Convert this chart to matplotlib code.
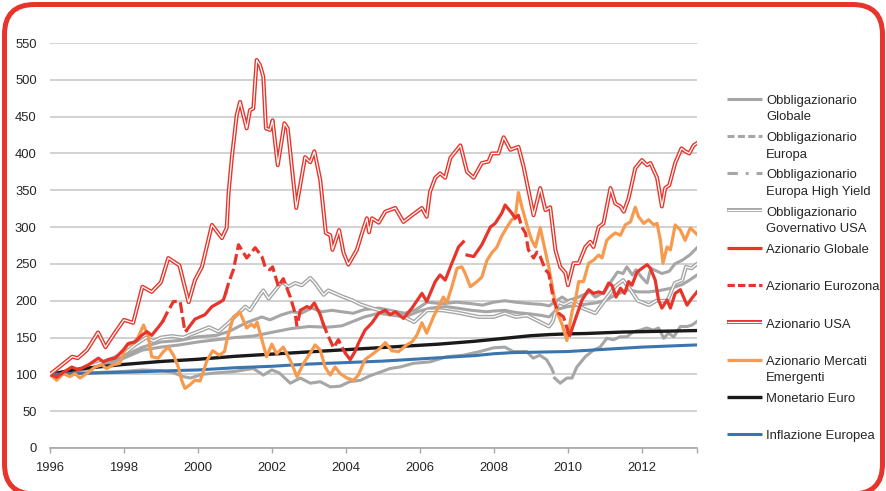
import numpy as np
import matplotlib
matplotlib.use("Agg")
import matplotlib.pyplot as plt
from matplotlib.patches import FancyBboxPatch
from matplotlib.lines import Line2D

plt.rcParams['font.family'] = ['Liberation Sans', 'DejaVu Sans']

nan = np.nan

# ---------------- data (index, 1996 = 100) ----------------
obg_x = [1996.0, 1996.5, 1997.0, 1997.5, 1998.0, 1998.5, 1999.0, 1999.5, 2000.0, 2000.5, 2000.83, 2001.3,
         2001.73, 2001.95, 2002.27, 2002.54, 2002.8, 2003.08, 2003.35, 2003.62, 2003.9, 2004.2, 2004.5,
         2004.9, 2005.3, 2005.6, 2005.9, 2006.2, 2006.6, 2007.0, 2007.4, 2007.7, 2008.0, 2008.3, 2008.6,
         2009.0, 2009.3, 2009.5, 2009.7, 2009.85, 2010.0, 2010.3, 2010.6, 2010.75, 2011.0, 2011.2, 2011.35,
         2011.5, 2011.6, 2011.75, 2011.85, 2012.0, 2012.15, 2012.25, 2012.55, 2012.75, 2012.9, 2013.1,
         2013.3, 2013.5]
obg_y = [100, 104, 108, 115, 125, 137, 144, 146, 151, 153, 158, 170,
         178, 174, 181, 185, 183, 190, 185, 187, 185, 183, 188,
         190, 186, 183, 188, 198, 196, 198, 196, 194, 198, 200, 198,
         196, 195, 193, 200, 205, 200, 205, 212, 205, 212, 228, 239,
         237, 246, 235, 242, 232, 224, 244, 237, 240, 250, 255,
         262, 272]

obe_x = [1996.0, 1996.5, 1997.0, 1997.5, 1998.0, 1998.5, 1999.0, 1999.5, 2000.0, 2000.5, 2001.0, 2001.5,
         2002.0, 2002.5, 2003.0, 2003.5, 2003.9, 2004.2, 2004.5, 2004.9, 2005.3, 2005.6, 2006.0, 2006.3,
         2006.7, 2007.0, 2007.4, 2007.8, 2008.0, 2008.3, 2008.6, 2009.0, 2009.3, 2009.5, 2009.7, 2010.0,
         2010.3, 2010.75, 2011.0, 2011.3, 2011.65, 2011.9, 2012.2, 2012.5, 2012.8, 2013.1, 2013.3, 2013.5]
obe_y = [100, 103, 107, 113, 122, 133, 137, 140, 144, 147, 150, 152,
         157, 162, 165, 164, 166, 172, 178, 183, 180, 178, 186, 190,
         192, 190, 187, 185, 186, 187, 184, 182, 180, 178, 188, 192,
         194, 197, 200, 208, 215, 212, 212, 214, 217, 222, 228, 235]

ohy_x = [1996.0, 1996.5, 1997.0, 1997.5, 1998.0, 1998.5, 1999.0, 1999.3, 1999.6, 1999.8, 2000.1, 2000.5,
         2001.0, 2001.5, 2001.77, 2002.0, 2002.2, 2002.5, 2002.77, 2003.04, 2003.31, 2003.58, 2003.85,
         2004.1, 2004.4, 2004.65, 2004.93, 2005.2, 2005.47, 2005.83, 2006.28, 2006.73, 2007.18, 2007.63,
         2007.99, 2008.3, 2008.53, 2008.89, 2009.07, 2009.25, 2009.43, 2009.56, 2009.61, 2009.63,
         2009.65, 2009.8, 2009.98, 2010.12, 2010.25, 2010.48, 2010.7, 2010.88, 2011.06, 2011.24, 2011.42,
         2011.6, 2011.78, 2011.96, 2012.14, 2012.32, 2012.46, 2012.6, 2012.73, 2012.87, 2013.05, 2013.23,
         2013.37, 2013.5]
ohy_y = [100, 101, 102, 103, 104, 106, 105, 103, 97, 95, 100, 102,
         104, 108, 99, 106, 102, 88, 95, 88, 90, 83, 84,
         90, 92, 98, 103, 108, 110, 115, 117, 124, 126, 131,
         136, 137, 131, 131, 122, 126, 120, 109, 103, nan,
         95, 88, 95, 95, 110, 124, 133, 137, 149, 147, 151,
         151, 158, 160, 163, 160, 163, 149, 156, 151, 165, 165,
         167, 172]

ogu_x = [1996.0, 1996.5, 1997.0, 1997.5, 1998.0, 1998.3, 1998.6, 1998.8, 1999.0, 1999.3, 1999.6, 1999.9,
         2000.3, 2000.56, 2000.83, 2001.1, 2001.28, 2001.41, 2001.64, 2001.77, 2001.91, 2002.09, 2002.27,
         2002.45, 2002.63, 2002.81, 2003.04, 2003.17, 2003.4, 2003.53, 2003.71, 2003.94, 2004.16, 2004.4,
         2004.7, 2004.9, 2005.2, 2005.5, 2005.85, 2006.0, 2006.2, 2006.6, 2007.0, 2007.3, 2007.6, 2008.0,
         2008.3, 2008.6, 2008.9, 2009.1, 2009.3, 2009.5, 2009.6, 2009.75, 2009.9, 2010.1, 2010.4, 2010.75,
         2011.0, 2011.3, 2011.5, 2011.7, 2011.9, 2012.2, 2012.4, 2012.7, 2012.9, 2013.1, 2013.2, 2013.35,
         2013.5]
ogu_y = [100, 103, 110, 118, 128, 140, 150, 145, 150, 152, 150, 156,
         164, 158, 170, 183, 192, 187, 205, 214, 203, 214, 226,
         219, 224, 221, 231, 224, 208, 214, 210, 205, 201, 195,
         190, 187, 185, 180, 171, 178, 187, 187, 184, 181, 178, 178,
         183, 178, 180, 175, 170, 165, 172, 198, 195, 200, 190, 183,
         200, 220, 228, 215, 200, 194, 200, 200, 224, 228, 246, 244,
         250]

azg_x = [1996.0, 1996.18, 1996.4, 1996.59, 1996.77, 1997.04, 1997.31, 1997.44, 1997.58, 1997.76, 1997.98,
         1998.12, 1998.3, 1998.48, 1998.62, 1998.75, 1998.93, 1999.05, 1999.3,
         1999.7, 1999.74, 1999.92, 2000.19, 2000.38, 2000.56, 2000.69, 2000.75, 2001.0,
         2002.72, 2002.77, 2002.95, 2003.04, 2003.15, 2003.31, 2003.38, 2003.6,
         2004.0, 2004.12, 2004.25, 2004.34, 2004.52, 2004.71, 2004.89, 2005.07, 2005.2, 2005.34, 2005.56,
         2005.79, 2006.06, 2006.19, 2006.42, 2006.55, 2006.69, 2006.87, 2007.05, 2007.18, 2007.23,
         2007.28, 2007.46, 2007.68, 2007.91, 2008.04, 2008.22, 2008.31, 2008.49, 2008.58, 2008.62, 2009.0,
         2010.06, 2010.21, 2010.39, 2010.57, 2010.7, 2010.84, 2010.97, 2011.11, 2011.2, 2011.31, 2011.43,
         2011.54, 2011.65, 2011.74, 2011.88, 2012.01, 2012.15, 2012.24, 2012.37, 2012.46, 2012.55, 2012.69,
         2012.78, 2012.91, 2013.05, 2013.23, 2013.37, 2013.5]
azg_y = [100, 96, 104, 110, 106, 113, 122, 117, 120, 122, 133,
         142, 144, 153, 158, 153, 164, 172, nan,
         160, 163, 175, 181, 192, 197, 201, 210, nan,
         175, 187, 192, 190, 197, 181, 170, nan,
         128, 120, 131, 142, 160, 170, 183, 187, 181, 185, 176,
         190, 210, 199, 226, 235, 228, 251, 273, 280, nan,
         262, 260, 276, 300, 305, 319, 330, 319, 312, 314, nan,
         153, 175, 201, 215, 210, 212, 210, 224, 221, 205, 217,
         210, 226, 221, 239, 244, 249, 244, 228, 201, 190, 201,
         190, 210, 215, 194, 204, 212]

aze_x = [1999.05, 1999.16, 1999.34, 1999.52, 1999.65, 1999.7, 1999.72,
         2000.75, 2000.83, 2000.96, 2001.1, 2001.32, 2001.55, 2001.73, 2001.82, 2001.95, 2002.02, 2002.18,
         2002.31, 2002.5, 2002.63, 2002.68, 2002.7,
         2003.38, 2003.49, 2003.67, 2003.8, 2003.94, 2004.0, 2004.02,
         2008.62, 2008.67, 2008.76, 2008.86, 2008.94, 2009.08, 2009.17, 2009.26, 2009.4, 2009.49, 2009.62,
         2009.76, 2009.89, 2010.03, 2010.06]
aze_y = [172, 183, 199, 199, 158, 160, nan,
         210, 224, 242, 276, 258, 272, 260, 246, 242, 246, 219,
         230, 205, 183, 165, nan,
         170, 156, 136, 147, 133, 128, nan,
         314, 316, 300, 292, 269, 258, 266, 260, 242, 237, 201,
         183, 178, 155, 153]

usa_x = [1996.0, 1996.3, 1996.6, 1996.75, 1997.0, 1997.3, 1997.5, 1997.75, 1998.0, 1998.25, 1998.5, 1998.75,
         1999.0, 1999.2, 1999.5, 1999.75, 1999.92, 2000.11, 2000.38, 2000.65, 2000.78, 2000.83, 2000.92,
         2001.05, 2001.14, 2001.32, 2001.41, 2001.5, 2001.59, 2001.68, 2001.77, 2001.84, 2001.95, 2002.02,
         2002.16, 2002.34, 2002.43, 2002.66, 2002.9, 2003.04, 2003.15, 2003.31, 2003.46, 2003.58, 2003.64,
         2003.82, 2003.94, 2004.07, 2004.3, 2004.44, 2004.57, 2004.63, 2004.71, 2004.89, 2005.07, 2005.34,
         2005.56, 2005.79, 2006.06, 2006.19, 2006.28, 2006.42, 2006.55, 2006.69, 2006.83, 2007.1, 2007.28,
         2007.46, 2007.68, 2007.86, 2007.95, 2008.13, 2008.27, 2008.45, 2008.67, 2008.81, 2008.94, 2009.08,
         2009.26, 2009.4, 2009.53, 2009.67, 2009.8, 2009.94, 2010.01, 2010.16, 2010.3, 2010.48, 2010.61,
         2010.7, 2010.84, 2010.97, 2011.16, 2011.29, 2011.43, 2011.52, 2011.65, 2011.83, 2012.01, 2012.15,
         2012.24, 2012.42, 2012.55, 2012.64, 2012.75, 2012.91, 2013.08, 2013.18, 2013.29, 2013.41, 2013.5]
usa_y = [100, 112, 124, 122, 133, 157, 137, 156, 174, 170, 219, 212,
         225, 258, 248, 198, 228, 246, 303, 285, 299, 346, 395,
         452, 470, 434, 459, 461, 527, 520, 504, 434, 432, 445,
         384, 441, 434, 326, 395, 388, 403, 364, 292, 289, 269,
         296, 265, 249, 269, 292, 312, 293, 312, 306, 321, 326,
         307, 316, 326, 314, 348, 367, 373, 367, 394, 411, 375,
         367, 387, 389, 400, 400, 422, 405, 409, 382, 350, 316,
         353, 323, 327, 269, 246, 238, 221, 251, 251, 273, 280,
         273, 300, 305, 353, 332, 328, 321, 339, 380, 391, 384,
         387, 367, 328, 353, 357, 387, 407, 403, 400, 411, 414]

em_x = [1996.0, 1996.18, 1996.36, 1996.54, 1996.68, 1996.81, 1996.99, 1997.22, 1997.4, 1997.53, 1997.71,
        1997.89, 1998.08, 1998.25, 1998.39, 1998.53, 1998.66, 1998.75, 1998.93, 1999.07, 1999.2, 1999.34,
        1999.47, 1999.56, 1999.65, 1999.79, 1999.92, 2000.06, 2000.24, 2000.4, 2000.58, 2000.72, 2000.8,
        2000.96, 2001.14, 2001.32, 2001.45, 2001.53, 2001.6, 2001.77, 2001.86, 2002.0, 2002.13, 2002.31,
        2002.5, 2002.68, 2002.86, 2003.04, 2003.17, 2003.31, 2003.44, 2003.58, 2003.71, 2003.85, 2004.03,
        2004.21, 2004.34, 2004.52, 2004.71, 2004.89, 2005.07, 2005.25, 2005.43, 2005.65, 2005.79, 2005.92,
        2006.06, 2006.19, 2006.37, 2006.51, 2006.64, 2006.73, 2006.87, 2007.01, 2007.14, 2007.23, 2007.37,
        2007.55, 2007.68, 2007.82, 2007.95, 2008.09, 2008.22, 2008.36, 2008.49, 2008.58, 2008.67, 2008.76,
        2008.86, 2008.94, 2009.03, 2009.13, 2009.26, 2009.35, 2009.49, 2009.62, 2009.71, 2009.85, 2009.98,
        2010.12, 2010.21, 2010.3, 2010.43, 2010.57, 2010.7, 2010.84, 2010.93, 2011.06, 2011.16, 2011.29,
        2011.43, 2011.56, 2011.7, 2011.83, 2011.92, 2012.06, 2012.19, 2012.33, 2012.42, 2012.51, 2012.58,
        2012.69, 2012.78, 2012.91, 2013.05, 2013.18, 2013.32, 2013.46, 2013.5]
em_y = [100, 92, 101, 97, 101, 95, 101, 110, 113, 108, 113,
        115, 140, 142, 151, 167, 151, 124, 122, 131, 137, 126,
        110, 92, 81, 86, 92, 91, 118, 132, 126, 131, 150,
        178, 184, 163, 168, 164, 171, 140, 124, 141, 128, 137,
        119, 97, 115, 129, 140, 133, 110, 99, 110, 101, 95,
        92, 99, 120, 127, 134, 143, 132, 131, 140, 144, 153,
        170, 156, 178, 192, 205, 197, 219, 244, 246, 237, 219,
        226, 232, 255, 265, 273, 288, 300, 310, 312, 347, 328,
        310, 296, 282, 273, 299, 278, 246, 210, 185, 168, 146,
        185, 201, 226, 226, 251, 255, 262, 258, 282, 287, 292,
        289, 303, 307, 327, 314, 305, 310, 303, 305, 282, 251,
        273, 269, 303, 296, 282, 299, 292, 290]

mon_x = [1996.0, 1996.5, 1997.0, 1997.5, 1998.0, 1998.5, 1999.0, 1999.5, 2000.0, 2000.5, 2001.0, 2001.5,
         2002.0, 2002.5, 2003.0, 2003.5, 2004.0, 2004.5, 2005.0, 2005.5, 2006.0, 2006.5, 2007.0, 2007.5,
         2008.0, 2008.5, 2009.0, 2009.5, 2010.0, 2010.5, 2011.0, 2011.5, 2012.0, 2012.5, 2013.0, 2013.5]
mon_y = [100, 105, 108.5, 111, 113.5, 115.5, 117.5, 119, 120.5, 122.5, 124.5, 126,
         127.5, 129, 130.5, 132, 133.5, 135, 136.5, 138, 139.5, 141, 143, 145,
         147.5, 150, 152.5, 154, 155, 155.5, 156.5, 157.5, 158, 158.5, 159, 159.5]

inf_x = mon_x
inf_y = [100, 100.8, 101.5, 102.3, 103, 103.7, 104.5, 105.3, 106, 107.5, 109, 110,
         111, 112.5, 114, 115, 116, 117, 118, 119.5, 121, 122.5, 124, 125.5,
         128, 129.5, 130, 130.5, 131, 132.5, 134, 135.5, 137, 138, 139, 140]

y_ticks = [0, 50, 100, 150, 200, 250, 300, 350, 400, 450, 500, 550]
x_ticks = [1996, 1998, 2000, 2002, 2004, 2006, 2008, 2010, 2012]
x_end = 2013.5

legend_rows = [("Obbligazionario", "Globale"),
               ("Obbligazionario", "Europa"),
               ("Obbligazionario", "Europa High Yield"),
               ("Obbligazionario", "Governativo USA"),
               ("Azionario Globale",),
               ("Azionario Eurozona",),
               ("Azionario USA",),
               ("Azionario Mercati", "Emergenti"),
               ("Monetario Euro",),
               ("Inflazione Europea",)]

# ---------------- styling ----------------
W, H = 887, 491
GRAY = '#A6A6A6'
RED = '#E8352B'
ORANGE = '#F79A4E'
BLACK = '#1A1A1A'
BLUE = '#3B74AE'
GRID = '#C9C9C9'
TXT = '#262626'
FS = 9.4

fig = plt.figure(figsize=(W / 100, H / 100), dpi=100)
ax = fig.add_axes([50 / W, 1 - 448 / H, 647 / W, 405 / H])

lw = 2.2
ax.plot(ohy_x, ohy_y, color=GRAY, lw=lw, zorder=2)
ax.plot(obe_x, obe_y, color=GRAY, lw=lw, zorder=2)
ax.plot(obg_x, obg_y, color=GRAY, lw=lw, zorder=2)
ax.plot(ogu_x, ogu_y, color=GRAY, lw=2.9, zorder=2.1)
ax.plot(ogu_x, ogu_y, color='white', lw=0.9, zorder=2.2)

ax.plot(mon_x, mon_y, color=BLACK, lw=2.4, zorder=3)
ax.plot(inf_x, inf_y, color=BLUE, lw=2.2, zorder=3)
ax.plot(em_x, em_y, color=ORANGE, lw=2.3, zorder=3.5)
ax.plot(azg_x, azg_y, color=RED, lw=2.3, zorder=4)
ax.plot(aze_x, aze_y, color=RED, lw=2.3, ls=(0, (3.4, 1.3)), zorder=4)
ax.plot(usa_x, usa_y, color=RED, lw=2.9, zorder=4.5)
ax.plot(usa_x, usa_y, color='white', lw=0.9, zorder=4.6)

ax.set_xlim(1996, x_end)
ax.set_ylim(0, 550)
ax.set_yticks(y_ticks)
ax.set_xticks(x_ticks)
ax.set_xticks([x_end], minor=True)
ax.yaxis.grid(True, color=GRID, lw=1.2, zorder=0)
ax.set_axisbelow(True)
for s in ['left', 'right', 'top']:
    ax.spines[s].set_visible(False)
ax.spines['bottom'].set_color('#A6A6A6')
ax.spines['bottom'].set_linewidth(1.2)
ax.tick_params(axis='y', length=0, pad=9.6, labelsize=FS, labelcolor=TXT)
ax.tick_params(axis='x', which='both', direction='out', length=3.6, width=1.0, color='#A6A6A6',
               pad=6.5, labelsize=FS, labelcolor=TXT)

# ---------------- legend (manual) ----------------
def fx(px):
    return px / W

def fy(py):
    return 1 - py / H

styles = [
    dict(color=GRAY, lw=2.2),
    dict(color=GRAY, lw=2.2, ls=(0, (2.3, 1.1))),
    dict(color=GRAY, lw=2.2, ls=(0, (3.4, 2.6, 0.9, 2.6))),
    'double_gray',
    dict(color=RED, lw=2.3),
    dict(color=RED, lw=2.3, ls=(0, (2.3, 1.0))),
    'double_red',
    dict(color=ORANGE, lw=2.3),
    dict(color=BLACK, lw=2.4),
    dict(color=BLUE, lw=2.2),
]
hx0, hx1, tx = 727, 762, 766
for i, (rows, st) in enumerate(zip(legend_rows, styles)):
    yy = 98.5 + 37.3 * i
    if st == 'double_gray' or st == 'double_red':
        c = GRAY if st == 'double_gray' else RED
        fig.add_artist(Line2D([fx(hx0), fx(hx1)], [fy(yy), fy(yy)], transform=fig.transFigure,
                              color=c, lw=2.9, solid_capstyle='butt'))
        fig.add_artist(Line2D([fx(hx0), fx(hx1)], [fy(yy), fy(yy)], transform=fig.transFigure,
                              color='white', lw=0.9, solid_capstyle='butt'))
    else:
        fig.add_artist(Line2D([fx(hx0), fx(hx1)], [fy(yy), fy(yy)], transform=fig.transFigure,
                              solid_capstyle='butt', **st))
    for j, line in enumerate(rows):
        fig.text(fx(tx), fy(yy + 5.3 + 16.5 * j), line, fontsize=FS, color=TXT,
                 ha='left', va='baseline')

# ---------------- rounded red frame ----------------
x0, x1, ytop, ybot = 4.5, 882.5, 4.5, 494
frame = FancyBboxPatch((x0 / 100, (H - ybot) / 100), (x1 - x0) / 100, (ybot - ytop) / 100,
                       boxstyle="round,pad=0,rounding_size=0.3", transform=fig.dpi_scale_trans,
                       fill=False, ec=RED, lw=3.6, clip_on=False)
fig.add_artist(frame)

fig.savefig('out.png', dpi=100)
